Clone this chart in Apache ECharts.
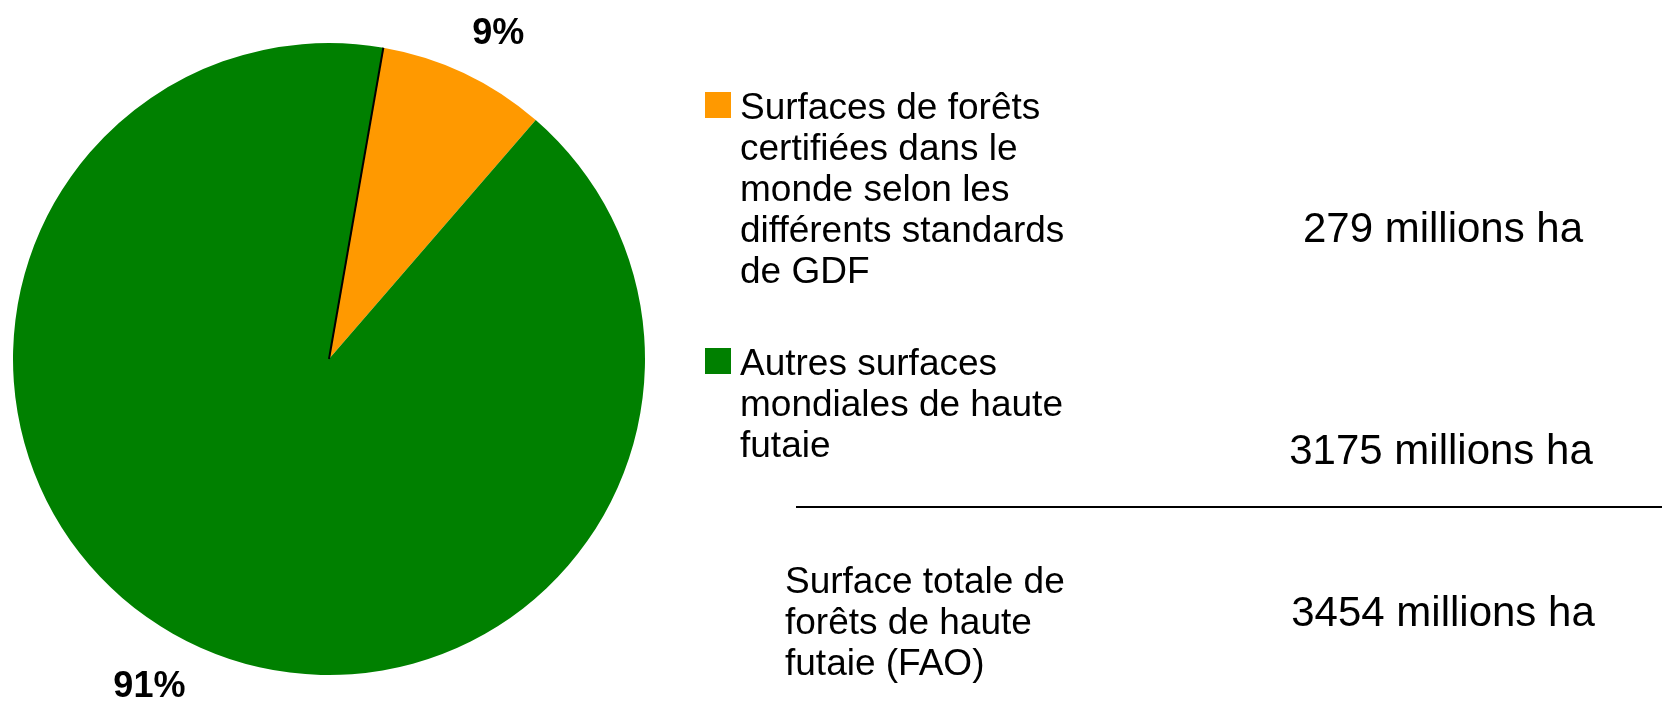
<!DOCTYPE html>
<html>
<head>
<meta charset="utf-8">
<script src="https://cdn.jsdelivr.net/npm/echarts@6/dist/echarts.min.js"></script>
<style>
  html, body { margin: 0; padding: 0; background: #fff; }
  #chart { width: 1662px; height: 701px; }
</style>
</head>
<body>
<div id="chart"></div>
<script>
// pie shares (percent) and areas in millions of hectares
var categories = [
  'Surfaces de forêts certifiées dans le monde selon les différents standards de GDF',
  'Autres surfaces mondiales de haute futaie'
];
var legendLines = [
  ['Surfaces de forêts', 'certifiées dans le', 'monde selon les', 'différents standards', 'de GDF'],
  ['Autres surfaces', 'mondiales de haute', 'futaie']
];
var shares = [8.6, 91.4];
var areas = [279, 3175];
var totalArea = 3454;
var totalLabel = ['Surface totale de', 'forêts de haute', 'futaie (FAO)'];
var colors = ['#ff9900', '#008000'];

var font = '"Liberation Sans", Arial, sans-serif';
var lineH = 41;
var cx = 329, cy = 359, R = 316;
var startAngle = 80.1;
var labelLen = [44, 47];
var labelLen2 = [-11, -12];

var chart = echarts.init(document.getElementById('chart'));
var a = startAngle * Math.PI / 180;

// value texts on the right
var valueTexts = [
  {x: 1443, y: 230, text: areas[0] + ' millions ha'},
  {x: 1441, y: 452, text: areas[1] + ' millions ha'},
  {x: 1443, y: 614, text: totalArea + ' millions ha'}
];

// square drawn in the top of a 26x33 box so the text sits a bit lower
var iconH = 33;

chart.setOption({
  animation: false,
  color: colors,
  legend: {
    orient: 'vertical',
    left: 705,
    top: 92 + iconH / 2 - (2 * legendLines[0].length - 1) * lineH / 2,
    padding: 0,
    itemGap: -31,
    itemWidth: 26,
    itemHeight: iconH,
    icon: 'path://M0,0h26v26h-26zM0,' + iconH,
    selectedMode: false,
    // blank lines in front keep the square level with the first line
    formatter: function (name) {
      var lines = legendLines[categories.indexOf(name)];
      var pad = [];
      for (var i = 1; i < lines.length; i++) pad.push('');
      return pad.concat(lines).join('\n');
    },
    textStyle: {
      fontFamily: font,
      fontSize: 37,
      lineHeight: lineH,
      color: '#000',
      padding: [0, 0, 0, 4]
    }
  },
  graphic: [
    {
      type: 'line', z: 100,
      shape: {x1: cx, y1: cy, x2: cx + R * Math.cos(a), y2: cy - R * Math.sin(a)},
      style: {stroke: '#000', lineWidth: 2}
    },
    {
      type: 'line',
      shape: {x1: 796, y1: 507, x2: 1662, y2: 507},
      style: {stroke: '#000', lineWidth: 2}
    },
    {
      type: 'text', x: 785, y: 624,
      style: {
        text: totalLabel.join('\n'), fontFamily: font, fontSize: 37, lineHeight: lineH,
        fill: '#000', align: 'left', verticalAlign: 'middle'
      }
    }
  ].concat(valueTexts.map(function (t) {
    return {
      type: 'text', x: t.x, y: t.y,
      style: {text: t.text, fontFamily: font, fontSize: 42, fill: '#000', align: 'center', verticalAlign: 'middle'}
    };
  })),
  series: [{
    type: 'pie',
    center: [cx, cy],
    radius: R,
    startAngle: startAngle,
    clockwise: true,
    avoidLabelOverlap: false,
    silent: true,
    label: {
      position: 'outside',
      fontFamily: font,
      fontSize: 36,
      fontWeight: 'bold',
      color: '#000',
      distanceToLabelLine: 0,
      formatter: function (p) { return Math.round(p.percent) + '%'; }
    },
    labelLine: {show: false},
    data: categories.map(function (name, i) {
      return {
        name: name,
        value: shares[i],
        labelLine: {show: false, length: labelLen[i], length2: labelLen2[i]}
      };
    })
  }]
});
</script>
</body>
</html>
